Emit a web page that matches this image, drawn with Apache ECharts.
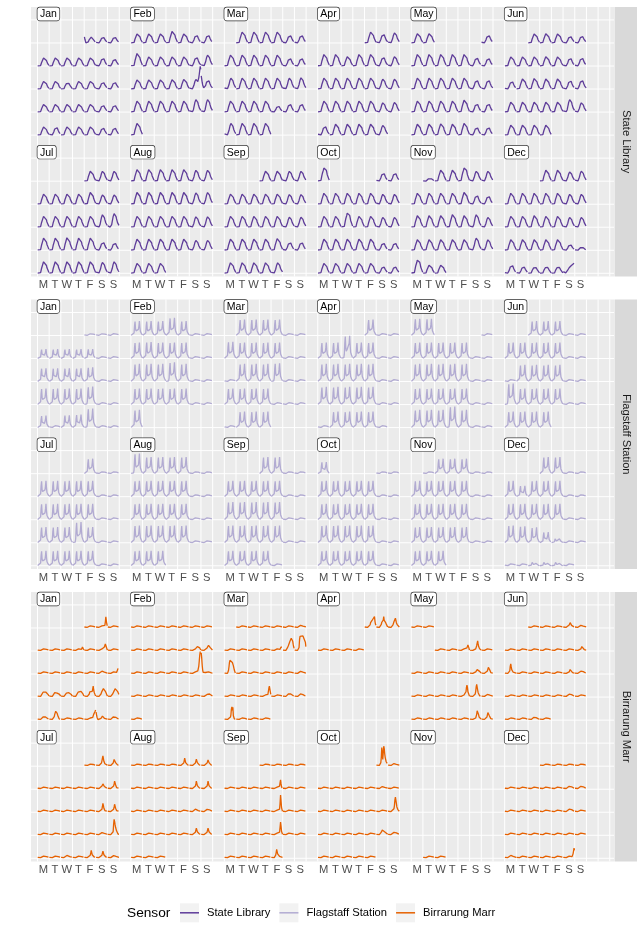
<!DOCTYPE html>
<html><head><meta charset="utf-8">
<script src="https://cdn.jsdelivr.net/npm/echarts@6/dist/echarts.min.js"></script>
<style>html,body{margin:0;padding:0;background:#fff;}#c{width:644px;height:938px;}</style>
</head><body><div id="c"></div>
<script>
// ---------------- DATA ----------------
const YEAR = 2016;
const monthNames = ['Jan','Feb','Mar','Apr','May','Jun','Jul','Aug','Sep','Oct','Nov','Dec'];
const dayLabels = ['M','T','W','T','F','S','S'];
const sensorNames = ['State Library','Flagstaff Station','Birrarung Marr'];
const sensorColors = ['#5E3C99','#B2ABD2','#E66101'];
const cellMax = [5600, 3900, 5200];   // count that fills one calendar cell
const holidays = ['01-01','01-26','03-14','03-25','03-28','04-25','06-13','09-30','11-01','12-25','12-26','12-27'];

// State Library hourly profiles (counts, hours 0-23)
const slWeekday = [60,30,20,15,15,40,150,500,1100,1500,1800,2100,2500,2550,2400,2300,2200,2100,1700,1200,900,700,450,200];
const slWeekend = [200,120,70,40,30,30,60,150,400,800,1200,1600,1900,2050,2100,2050,1900,1600,1250,950,700,550,400,280];
// State Library daily peak counts per month
const slPeaks = [
 [1450,1450,1450,2000,2000,2000,2000,2000,1950,1700,1900,1900,1600,1900,1900,1700,1700,1900,1900,1900,1900,1900,1700,1700,2000,1950,2000,2000,2000,1800,1800],
 [2250,2250,2250,2850,2250,1950,1950,3100,2250,2250,2250,2250,2200,2700,2250,2250,2250,2300,2400,2400,2200,2700,2700,2700,2700,2700,3100,3100,2900],
 [2700,2700,2700,2700,1900,1900,2700,2700,2700,2700,2700,1900,1900,2700,2700,2700,2700,2700,2700,2800,2700,2700,2700,2700,1500,2000,2000,2900,2900,2900,2900],
 [2700,2200,2500,2850,2850,2300,2850,2850,2200,2300,2700,2700,2700,2700,2700,2450,2450,2700,2700,2700,2700,2700,2300,2400,2200,2700,2700,2700,2700,2400],
 [1900,2850,2850,2850,2850,2850,2050,1900,2700,2700,2700,2700,2700,2200,2200,2700,2700,2700,2700,2950,2050,2050,2700,2700,2800,2700,2900,1900,1900,2300,2300],
 [2250,2300,2250,1650,1700,2250,2250,2250,2300,2250,1950,2000,1900,2500,2600,2500,2500,2100,2200,2450,2450,2450,2450,2450,3100,2300,2450,2450,2450,2450],
 [2450,2450,2450,2500,2500,2500,2500,2900,2300,2300,2700,2700,2700,2700,2700,3100,3400,3000,3000,3100,3000,3000,2000,1800,2850,2850,2850,2850,2850,2700,2850],
 [2850,2850,2850,2850,2850,2700,2700,2900,2900,2900,2900,2900,2800,2900,2700,2700,2700,2700,2700,2600,2600,2750,2750,2750,2750,2750,2450,2450,2450,2450,2450],
 [2450,2450,2450,2450,2500,2500,2500,2500,2500,2400,2400,2700,2700,2700,2700,2700,2500,2500,2750,2750,2750,2750,2900,1950,1950,2600,2600,2600,2600,2600],
 [2000,2000,2700,2700,2700,2700,2700,2450,2450,2700,2700,3500,2700,2700,2450,2450,2750,2750,2750,2750,2750,1800,1800,2450,2450,2450,2450,2450,1650,1650,3250],
 [750,2700,2700,3250,2450,2450,2700,2700,2700,2700,2900,2200,2000,2850,2850,2850,3100,2850,3100,2450,2600,2600,2600,2600,2600,3000,2600,3250,2000,2000],
 [2700,2700,2300,2500,2700,2700,2700,2700,2700,2450,2450,2700,2700,2850,2700,2700,2450,2450,2600,2600,2600,2600,2600,1400,800,2000,1650,1600,1650,1650,2400]
];
// State Library special hours: [date, first hour, counts]
const slEvents = [
 ['01-01', 0, [1500,900,450]],
 ['02-20', 18, [2300,2800,3600,4600,5500,4800]],
 ['02-21', 0, [3200,2400,1600,1000,600,300,200]],
 ['12-31', 0, [400,250,150,100,80,100,200,350,550,750,950,1150,1350,1500,1650,1750,1850,1950,2050,2150,2250,2350,2450,2500]]
];

// Flagstaff Station hourly profiles
const fsWeekday = [40,20,10,10,20,100,500,1900,2700,1300,900,1000,1150,1050,1000,1200,1900,2800,1600,800,550,400,250,120];
const fsWeekend = [120,80,50,30,20,20,40,80,150,220,280,320,340,350,340,330,310,290,260,220,190,170,150,120];
const fsPeaks = [
 [300,300,320,1580,1580,1580,1580,1600,330,330,2260,2260,2260,2260,2400,330,330,2710,2710,2710,2710,3050,330,330,2030,330,2100,2200,3220,330,330],
 [2430,2430,2430,3000,2430,330,330,2710,2800,2710,2710,2710,330,330,3000,3000,3000,3270,3000,330,330,2710,2710,2710,2710,2710,330,330,3000],
 [2710,2710,2710,2710,330,330,2830,2710,2710,2710,2710,330,330,330,3000,3000,3000,3100,330,330,2710,2710,2710,2710,330,330,330,330,2710,2710,2710],
 [2710,330,330,2710,2710,3850,2710,2710,330,330,3000,3000,3000,3000,3000,330,330,3000,3000,3000,3000,3000,330,330,330,2710,2710,2710,2710,330],
 [330,2710,2710,2710,2710,2710,330,330,3000,3000,3000,3000,3000,330,330,2710,2710,2710,2710,2710,330,330,3000,3000,3000,3560,3000,330,330,2830,2830],
 [2430,2430,2430,330,330,2710,2710,2710,2710,2710,330,330,330,2830,2830,2830,2830,330,330,3560,2710,2710,2710,2710,330,330,2710,2710,2710,2710],
 [2540,330,330,2710,2710,2710,2710,2710,330,330,2710,2710,2710,2710,2710,330,330,2660,2660,2660,3510,2660,330,330,2540,2540,2540,2540,2540,330,330],
 [3390,2830,2830,2830,2830,330,330,2710,2710,2710,2710,2710,330,330,2710,2710,2710,2710,2710,330,330,2930,2930,2930,2930,2930,330,330,2540,2540,2540],
 [2830,2830,330,330,2710,2710,2710,2710,2710,330,330,3000,3000,3000,3000,3000,330,330,2930,2930,2930,2930,2930,330,330,2540,2540,2540,2540,330],
 [330,330,2710,2710,2710,2710,2710,330,330,2710,2710,2710,2710,2710,330,330,2930,2930,2930,2930,2930,330,330,2540,2540,2540,2540,2540,330,330,1980],
 [330,2540,2540,2540,330,330,2710,2710,2710,2710,2710,330,330,2710,2710,2710,2710,2710,330,330,2660,2660,2660,2660,2660,330,330,2540,2540,2540],
 [2830,2830,330,330,2710,1860,2710,2710,2710,330,330,2710,2710,2710,2710,2710,330,330,2930,2800,2600,1810,970,330,330,330,330,600,600,600,330]
];

// Birrarung Marr background hourly profile and events
const bmBase = [220,170,130,110,100,110,160,230,300,350,400,450,480,500,500,480,450,420,380,340,300,270,250,230];
const bmMissing = [['04-08','05-03'], ['10-29','11-28']];
const bmEvents = [
 ['01-02',18,[600,1400,2500,1700,900,500]],
 ['01-07',19,[700,900,700,400]],
 ['01-09',16,[600,900,1300,1600,1400,900,500]],
 ['01-16',12,[650,800,850,750,600]],
 ['01-17',19,[700,900,1300,1200,900]],
 ['01-18',10,[600,1100,900,1300,1000,800,900,1100,1400,1200,900,700,500]],
 ['01-19',10,[600,1000,1200,900,1100,1300,900,1000,1300,1100,800,600,500]],
 ['01-20',10,[600,900,1100,1300,900,800,1000,1200,1300,1000,800,600,500]],
 ['01-21',10,[600,1100,900,1200,1400,900,1000,1300,1500,1100,900,700,500]],
 ['01-22',10,[700,1200,1000,1400,1200,1100,1300,1800,2500,1600,1100,800,500]],
 ['01-23',10,[700,1000,1300,1500,1700,1900,2000,1800,1500,1300,1100,800,600]],
 ['01-24',10,[700,900,1100,1400,1700,1900,2000,2100,1900,1600,1300,1000,800,600]],
 ['01-25',11,[700,900,1100,1000,900,700,600]],
 ['01-26',10,[800,1300,1700,2000,2100,1900,1500,1100,800,600]],
 ['01-29',17,[600,900,1300,1200,1500,2000,2300]],
 ['01-30',0,[1800,1100,600,300]],
 ['01-30',12,[700,900,800,700,600]],
 ['01-31',11,[700,900,1000,950,800,700,600]],
 ['02-13',14,[600,800,1000,1100,1200,1100,900,700,500]],
 ['02-14',12,[700,900,1100,1300,1400,1300,1000,700,500]],
 ['02-20',17,[700,1000,1800,3000,4300,5100,5200]],
 ['02-21',0,[4800,3600,2000,900,400]],
 ['02-28',12,[600,800,1000,1100,900,700,550]],
 ['03-06',12,[600,700,750,700,600]],
 ['03-11',19,[700,900,1000,900,800]],
 ['03-12',8,[500,700,900,1200,1500,1800,2100,2400,2700,2900,3000,2800,2200,1500,900,600]],
 ['03-13',9,[800,2500,3300,3400,3300,3400,3300,3200,3400,3300,3300,3400,3200,2000,1000]],
 ['03-14',8,[800,1600,2600,3100,3200,3100,3000,2800,2600,2300,1900,1400,900,600]],
 ['03-20',12,[600,700,750,700,600]],
 ['03-24',17,[600,900,2000,2500,2300,1200,600]],
 ['03-26',11,[700,900,1100,1000,900,700,550]],
 ['03-27',12,[700,900,850,800,700,550]],
 ['03-28',12,[700,1200,2500,3000,2200,2900,1000,600]],
 ['04-01',11,[700,1200,1500,1600,1700,1800,1900,2000,2100,2600,1500,900,600]],
 ['04-02',10,[800,1300,1600,1700,1800,2600,1700,1600,1500,1200,900,700,500]],
 ['04-03',10,[700,1100,1400,1600,1800,2200,1700,1200,900,700,500]],
 ['05-06',18,[700,1000,1400,1200,700]],
 ['05-07',13,[700,1200,1800,2300,1600,1000,700,500]],
 ['05-14',14,[700,1000,1300,1400,1100,800,600]],
 ['05-15',12,[700,1100,1500,1800,1400,900,600]],
 ['05-20',15,[700,1200,2200,2700,2200,1200,800,600]],
 ['05-21',11,[700,1300,2300,2900,2500,1600,1000,700,550]],
 ['05-22',12,[600,700,750,700,600]],
 ['05-28',13,[700,1300,2100,2500,2000,1200,700,550]],
 ['05-29',11,[700,1200,1700,2000,1500,1000,700,550]],
 ['06-04',12,[700,1000,1200,1100,800,600]],
 ['06-05',12,[600,700,800,700,600]],
 ['06-12',13,[700,1000,1200,1000,700,550]],
 ['06-13',10,[700,1800,2300,1600,1000,700,550]],
 ['06-18',13,[700,1000,1300,1100,800,600]],
 ['06-19',12,[650,850,1000,850,700,550]],
 ['06-25',12,[650,850,1000,850,700,550]],
 ['06-29',11,[600,750,800,700,600,550]],
 ['07-02',11,[700,1200,1800,2300,1700,1100,700,550]],
 ['07-03',11,[700,1100,1500,1800,1300,800,600]],
 ['07-09',12,[700,1000,1200,1000,750,600]],
 ['07-10',12,[700,1200,1800,1600,1000,650]],
 ['07-16',12,[700,1300,2000,1500,900,600]],
 ['07-17',12,[700,1200,1800,1400,900,600]],
 ['07-23',12,[600,750,800,700,600]],
 ['07-24',11,[800,2500,3600,3100,2400,1800,1400,1000,700,550]],
 ['07-27',12,[650,750,700,600]],
 ['07-29',12,[700,1200,1800,1300,800,600]],
 ['07-30',12,[700,1100,1600,1200,800,600]],
 ['07-31',12,[600,750,800,700,600]],
 ['08-05',12,[700,1200,1800,1300,800,600]],
 ['08-06',12,[700,1100,1600,1200,800,600]],
 ['08-07',12,[700,1000,1400,1100,800,600]],
 ['08-13',12,[700,1200,1800,1300,800,600]],
 ['08-14',12,[700,1200,1800,1400,800,600]],
 ['08-20',12,[700,950,1150,950,700,600]],
 ['08-21',12,[650,850,1000,850,700,550]],
 ['08-27',12,[700,1100,1600,1200,800,600]],
 ['08-28',12,[700,1100,1600,1300,800,600]],
 ['09-09',17,[700,1500,2100,1200,600]],
 ['09-16',17,[700,2000,3900,2500,1100,600]],
 ['09-23',17,[700,1800,3000,2000,900,600]],
 ['09-30',9,[700,1300,2000,1600,1000,700,550]],
 ['10-01',9,[800,2000,4200,3000,1500,3000,4500,4000,2800,2000,1500,1000,800,650,550]],
 ['10-02',12,[600,750,800,700,600]],
 ['10-08',12,[600,750,800,700,600]],
 ['10-16',12,[800,1500,2800,3400,3000,2000,1200,800,600]],
 ['10-22',10,[700,1000,1200,1200,1100,1000,900,800,700,650,600]],
 ['10-23',12,[650,850,1000,850,700,550]],
 ['12-10',12,[650,850,950,850,700,550]],
 ['12-11',12,[650,850,950,850,700,550]],
 ['12-17',12,[700,950,1100,950,750,600]],
 ['12-26',12,[650,850,900,800,650]],
 ['12-31',19,[700,1000,1600,2300,1800]]
];

// ---------------- LAYOUT ----------------
const FONT = '"Liberation Sans", Arial, Helvetica, sans-serif';
const PANEL_TOPS = [7, 299.5, 592];
const PANEL_H = 269.5, PANEL_LEFT = 31, PANEL_W = 583;
const X_MIN = -0.553, X_MAX = 49.36, Y_MIN = -0.139, Y_MAX = 11.563;

function pad(n){ return (n < 10 ? '0' : '') + n; }
function cellOf(m, d) {
  const first = (new Date(Date.UTC(YEAR, m, 1)).getUTCDay() + 6) % 7;
  const idx = d - 1 + first;
  const week = Math.floor(idx / 7), dow = idx % 7;
  const row = week % 5;
  const block = Math.floor(m / 6);
  return { x0: (m % 6) * 8 + dow, y0: (block === 0 ? 10 : 4) - row, dow: dow };
}
function applyEvents(list, key, vals) {
  list.forEach(function (e) {
    if (e[0] === key) e[2].forEach(function (v, i) { vals[e[1] + i] = v; });
  });
}
function scaled(prof, peak) {
  const mx = Math.max.apply(null, prof);
  return prof.map(function (v) { return v / mx * peak; });
}
function dayValues(s, m, d, dow) {
  const key = pad(m + 1) + '-' + pad(d);
  const off = dow >= 5 || holidays.indexOf(key) >= 0;
  let vals;
  if (s === 0) {
    vals = scaled(off ? slWeekend : slWeekday, slPeaks[m][d - 1]);
    applyEvents(slEvents, key, vals);
  } else if (s === 1) {
    vals = scaled(off ? fsWeekend : fsWeekday, fsPeaks[m][d - 1]);
  } else {
    for (const r of bmMissing) if (key >= r[0] && key <= r[1]) return null;
    vals = bmBase.slice();
    applyEvents(bmEvents, key, vals);
  }
  return vals;
}
function buildSeriesData(s) {
  const pts = [];
  for (let m = 0; m < 12; m++) {
    const nd = new Date(Date.UTC(YEAR, m + 1, 0)).getUTCDate();
    for (let d = 1; d <= nd; d++) {
      const c = cellOf(m, d);
      const vals = dayValues(s, m, d, c.dow);
      if (!vals) continue;
      for (let h = 0; h < 24; h++) pts.push([c.x0 + (h + 0.5) / 24, c.y0 + vals[h] / cellMax[s]]);
      pts.push(['-', '-']);
    }
  }
  return pts;
}

function renderGridLines(params, api) {
  const cs = params.coordSys;
  const children = [];
  for (let k = Math.ceil(X_MIN); k <= X_MAX; k++) {
    const x = api.coord([k, 0])[0];
    children.push({ type: 'line', shape: { x1: x, y1: cs.y, x2: x, y2: cs.y + cs.height }, style: { stroke: '#FFFFFF', lineWidth: 1 } });
  }
  for (let k = Math.ceil(Y_MIN); k <= Y_MAX; k++) {
    const y = api.coord([0, k])[1];
    children.push({ type: 'line', shape: { x1: cs.x, y1: y, x2: cs.x + cs.width, y2: y }, style: { stroke: '#FFFFFF', lineWidth: 1 } });
  }
  return { type: 'group', children: children, silent: true };
}
function renderMonthLabel(params, api) {
  const pt = api.coord([api.value(0), api.value(1)]);
  return {
    type: 'text', x: pt[0], y: pt[1] + 0.5, silent: true,
    style: {
      text: monthNames[params.dataIndex], fontSize: 10.5, fontFamily: FONT, fill: '#000',
      backgroundColor: '#FFFFFF', borderColor: '#333333', borderWidth: 0.7, borderRadius: 2.5,
      padding: [1.5, 2.5, 0.5, 2.5], align: 'left', verticalAlign: 'bottom'
    }
  };
}

const labelValues = [];
for (let m = 0; m < 6; m++) for (let j = 0; j < 7; j++) labelValues.push(m * 8 + j + 0.5);
const monthAnchors = monthNames.map(function (n, i) { return [(i % 6) * 8, i < 6 ? 11 : 5]; });

const grids = [], xAxes = [], yAxes = [], series = [];
for (let p = 0; p < 3; p++) {
  grids.push({ left: PANEL_LEFT, top: PANEL_TOPS[p], width: PANEL_W, height: PANEL_H, show: true, backgroundColor: '#EBEBEB', borderWidth: 0 });
  xAxes.push({
    type: 'value', gridIndex: p, min: X_MIN, max: X_MAX,
    axisLine: { show: false }, axisTick: { show: false }, splitLine: { show: false },
    axisLabel: {
      customValues: labelValues, margin: 3, color: '#4D4D4D', fontSize: 11.2, fontFamily: FONT,
      formatter: function (v) { return dayLabels[Math.floor(v + 1e-6) % 8]; }
    }
  });
  yAxes.push({ type: 'value', gridIndex: p, min: Y_MIN, max: Y_MAX, show: false });
  series.push({ type: 'custom', xAxisIndex: p, yAxisIndex: p, data: [[0, 0]], renderItem: renderGridLines, silent: true, z: 1, clip: false });
  series.push({
    type: 'line', name: sensorNames[p], xAxisIndex: p, yAxisIndex: p, data: buildSeriesData(p),
    showSymbol: false, symbol: 'none', color: sensorColors[p], connectNulls: false,
    lineStyle: { width: 1.3, color: sensorColors[p] }, silent: true, z: 3
  });
  series.push({ type: 'custom', xAxisIndex: p, yAxisIndex: p, data: monthAnchors, renderItem: renderMonthLabel, silent: true, z: 4, clip: false });
}

// legend geometry
const LEG_X = 180, LEG_TOP = 907.3, KEY = 19, LEG_FS = 11.2, LEG_GAP = 9, TXT_PAD = 3;
const ctx = document.createElement('canvas').getContext('2d');
ctx.font = LEG_FS + 'px ' + FONT;
const graphics = [];
let kx = LEG_X;
sensorNames.forEach(function (n) {
  graphics.push({ type: 'rect', left: kx, top: 903.3, shape: { width: KEY, height: KEY }, style: { fill: '#F2F2F2' }, z: 1, silent: true });
  kx += KEY + 5 + TXT_PAD + ctx.measureText(n).width + LEG_GAP;
});
graphics.push({ type: 'text', left: 127, top: 906.5, style: { text: 'Sensor', fontSize: 13.7, fontFamily: FONT, fill: '#000' }, silent: true });
for (let p = 0; p < 3; p++) {
  graphics.push({ type: 'rect', left: PANEL_LEFT + PANEL_W + 0.5, top: PANEL_TOPS[p], shape: { width: 22.5, height: PANEL_H }, style: { fill: '#D9D9D9' }, silent: true });
  graphics.push({
    type: 'text', x: PANEL_LEFT + PANEL_W + 0.5 + 11.25, y: PANEL_TOPS[p] + PANEL_H / 2, rotation: -Math.PI / 2,
    style: { text: sensorNames[p], fontSize: 11.2, fontFamily: FONT, fill: '#1A1A1A', align: 'center', verticalAlign: 'middle' }, silent: true
  });
}

const chart = echarts.init(document.getElementById('c'), null, { renderer: 'canvas' });
chart.setOption({
  animation: false,
  backgroundColor: '#FFFFFF',
  textStyle: { fontFamily: FONT },
  grid: grids, xAxis: xAxes, yAxis: yAxes, series: series,
  legend: {
    left: LEG_X, top: LEG_TOP, padding: 0, itemWidth: KEY, itemHeight: 1.5, itemGap: LEG_GAP, icon: 'rect',
    selectedMode: false, z: 5, data: sensorNames,
    textStyle: { fontSize: LEG_FS, fontFamily: FONT, color: '#000', padding: [0, 0, 0, TXT_PAD] }
  },
  graphic: graphics
});
</script></body></html>
